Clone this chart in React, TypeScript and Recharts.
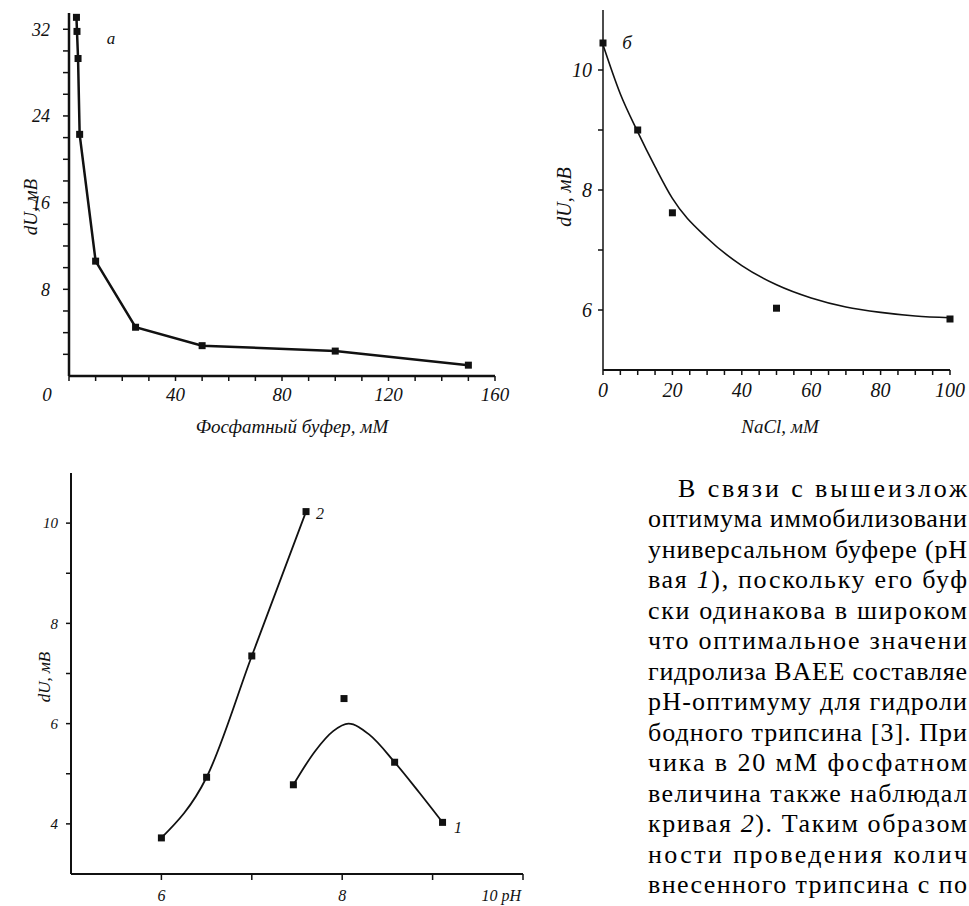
import React from 'react';
import { ComposedChart, Line, Scatter, XAxis, YAxis } from 'recharts';

// (а) dU vs phosphate buffer concentration
const bufferConc = [2.8, 3.0, 3.4, 4, 10, 25, 50, 100, 150];
const bufferDU = [33.1, 31.8, 29.3, 22.3, 10.6, 4.5, 2.8, 2.3, 1.0];
const bufferTicksX = [0, 10, 20, 30, 40, 50, 60, 70, 80, 90, 100, 110, 120, 130, 140, 150, 160];
const bufferLabelsX = [0, 40, 80, 120, 160];
const bufferTicksY = [2, 4, 6, 8, 10, 12, 14, 16, 18, 20, 22, 24, 26, 28, 30, 32];
const bufferLabelsY = [8, 16, 24, 32];

// (б) dU vs NaCl, points and the drawn fit curve
const naclConc = [0, 10, 20, 50, 100];
const naclDU = [10.45, 9.0, 7.62, 6.03, 5.85];
const naclFitConc = [0, 5, 10, 15, 20, 30, 40, 50, 60, 70, 80, 90, 100];
const naclFitDU = [10.42, 9.6, 8.97, 8.39, 7.86, 7.2, 6.74, 6.42, 6.2, 6.05, 5.96, 5.9, 5.87];
const naclTicksX = [0, 5, 10, 15, 20, 25, 30, 35, 40, 45, 50, 55, 60, 65, 70, 75, 80, 85, 90, 95, 100];
const naclLabelsX = [0, 20, 40, 60, 80, 100];
const naclTicksY = [6, 7, 8, 9, 10];
const naclLabelsY = [6, 8, 10];

// pH curves 1 and 2
const ph2 = [6.0, 6.5, 7.0, 7.6];
const du2 = [3.72, 4.93, 7.35, 10.23];
const ph1 = [7.46, 8.02, 8.58, 9.11];
const du1 = [4.78, 6.5, 5.23, 4.03];
const ph1Fit = [7.46, 7.7, 7.9, 8.07, 8.3, 8.58, 8.85, 9.11];
const du1Fit = [4.78, 5.45, 5.85, 6.0, 5.78, 5.23, 4.63, 4.03];
const phTicksX = [6, 7, 8, 9, 10];
const phLabelsX = [6, 8, 10];
const phTicksY = [4, 5, 6, 7, 8, 9, 10];
const phLabelsY = [4, 6, 8, 10];

// paragraph beside the pH chart (cut at the page edge as in the scan)
const textLines = [
  'В связи с вышеизлож',
  'оптимума иммобилизовани',
  'универсальном буфере (pH',
  'вая |1|), поскольку его буф',
  'ски одинакова в широком',
  'что оптимальное значени',
  'гидролиза BAEE составляе',
  'pH-оптимуму для гидроли',
  'бодного трипсина [3]. При',
  'чика в 20 мМ фосфатном',
  'величина также наблюдал',
  'кривая |2|). Таким образом',
  'ности проведения колич',
  'внесенного трипсина с по',
];

const zip = (xs: number[], ys: number[]) => xs.map((x, i) => ({ x, y: ys[i] }));

const serif = '"Liberation Serif", "DejaVu Serif", serif';
const ink = '#111';

const square = (size: number) => (props: any) => {
  const { cx, cy, index } = props;
  if (cx == null || cy == null) return <g key={index} />;
  return <rect key={index} x={cx - size / 2} y={cy - size / 2} width={size} height={size} fill={ink} />;
};

type TickOpts = {
  labels: number[];
  fontSize: number;
  vertical?: boolean;
  dx?: (v: number) => number;
  text?: (v: number) => string;
  anchor?: (v: number) => string;
};

const makeTick = (o: TickOpts) => (props: any) => {
  const { x, y, payload } = props;
  const v = payload.value;
  if (!o.labels.includes(v)) return <g />;
  return (
    <text
      x={x + (o.dx ? o.dx(v) : 0)}
      y={y}
      dy={o.vertical ? '0.35em' : '0.71em'}
      textAnchor={o.anchor ? o.anchor(v) : o.vertical ? 'end' : 'middle'}
      fontFamily={serif}
      fontStyle="italic"
      fontSize={o.fontSize}
      fill={ink}
    >
      {o.text ? o.text(v) : v}
    </text>
  );
};

function BufferChart() {
  return (
    <ComposedChart width={520} height={440} margin={{ top: 13, right: 25, bottom: 0, left: 0 }}>
      <XAxis type="number" dataKey="x" domain={[0, 160]} ticks={bufferTicksX} interval={0} height={64}
        axisLine={{ stroke: ink, strokeWidth: 2.5 }} tickLine={{ stroke: ink, strokeWidth: 1.5 }} tickSize={5} tickMargin={7}
        tick={makeTick({ labels: bufferLabelsX, fontSize: 19, dx: (v) => (v === 0 ? -22 : 0) })} />
      <YAxis type="number" dataKey="y" domain={[0, 33.5]} ticks={bufferTicksY} interval={0} width={69}
        axisLine={{ stroke: ink, strokeWidth: 2.5 }} tickLine={{ stroke: ink, strokeWidth: 1.5 }} tickSize={6} tickMargin={13}
        tick={makeTick({ labels: bufferLabelsY, fontSize: 18, vertical: true })} />
      <Line data={zip(bufferConc, bufferDU)} dataKey="y" type="linear" stroke={ink} strokeWidth={2.5}
        dot={square(7)} activeDot={false} isAnimationActive={false} />
    </ComposedChart>
  );
}

function NaclChart() {
  return (
    <ComposedChart width={446} height={440} margin={{ top: 10, right: 19, bottom: 0, left: 0 }}>
      <XAxis type="number" dataKey="x" domain={[0, 100]} ticks={naclTicksX} interval={0} height={70}
        axisLine={{ stroke: ink, strokeWidth: 2 }} tickLine={{ stroke: ink, strokeWidth: 1.5 }} tickSize={5} tickMargin={8}
        tick={makeTick({ labels: naclLabelsX, fontSize: 20 })} />
      <YAxis type="number" dataKey="y" domain={[5, 11]} ticks={naclTicksY} interval={0} width={80}
        axisLine={{ stroke: ink, strokeWidth: 1.5 }} tickLine={{ stroke: ink, strokeWidth: 1.5 }} tickSize={5} tickMargin={6}
        tick={makeTick({ labels: naclLabelsY, fontSize: 20, vertical: true })} />
      <Line data={zip(naclFitConc, naclFitDU)} dataKey="y" type="monotone" stroke={ink} strokeWidth={1.6}
        dot={false} activeDot={false} isAnimationActive={false} />
      <Scatter data={zip(naclConc, naclDU)} dataKey="y" shape={square(7)} isAnimationActive={false} />
    </ComposedChart>
  );
}

function PhChart() {
  return (
    <ComposedChart width={560} height={466} margin={{ top: 33, right: 37, bottom: 0, left: 0 }}>
      <XAxis type="number" dataKey="x" domain={[5, 10]} ticks={phTicksX} interval={0} height={32}
        axisLine={{ stroke: ink, strokeWidth: 2 }} tickLine={{ stroke: ink, strokeWidth: 1.5 }} tickSize={6} tickMargin={10}
        tick={makeTick({
          labels: phLabelsX,
          fontSize: 16,
          text: (v) => (v === 10 ? '10 pH' : String(v)),
          anchor: (v) => (v === 10 ? 'end' : 'middle'),
          dx: (v) => (v === 10 ? -2 : 0),
        })} />
      <YAxis type="number" dataKey="y" domain={[3, 11]} ticks={phTicksY} interval={0} width={71}
        axisLine={{ stroke: ink, strokeWidth: 2 }} tickLine={{ stroke: ink, strokeWidth: 1.5 }} tickSize={5} tickMargin={8}
        tick={makeTick({ labels: phLabelsY, fontSize: 15, vertical: true })} />
      <Line data={zip(ph2, du2)} dataKey="y" type="monotone" stroke={ink} strokeWidth={1.8}
        dot={square(7)} activeDot={false} isAnimationActive={false} />
      <Line data={zip(ph1Fit, du1Fit)} dataKey="y" type="monotone" stroke={ink} strokeWidth={1.8}
        dot={false} activeDot={false} isAnimationActive={false} />
      <Scatter data={zip(ph1, du1)} dataKey="y" shape={square(7)} isAnimationActive={false} />
    </ComposedChart>
  );
}

const renderLine = (s: string) =>
  s.split('|').map((part, i) => (i % 2 === 1 ? <tspan key={i} fontStyle="italic">{part}</tspan> : <tspan key={i}>{part}</tspan>));

export default function App() {
  const label = { fontFamily: serif, fontStyle: 'italic' as const, fill: ink };
  return (
    <div style={{ position: 'absolute', left: 0, top: 0, width: 969, height: 906, overflow: 'hidden', background: '#fff' }}>
      <div style={{ position: 'absolute', left: 0, top: 0 }}><BufferChart /></div>
      <div style={{ position: 'absolute', left: 523, top: 0 }}><NaclChart /></div>
      <div style={{ position: 'absolute', left: 0, top: 440 }}><PhChart /></div>
      <svg width={969} height={906} style={{ position: 'absolute', left: 0, top: 0, pointerEvents: 'none' }}>
        <text x={111} y={38} dominantBaseline="central" textAnchor="middle" fontSize={17} {...label}>а</text>
        <text x={30} y={207} dominantBaseline="central" textAnchor="middle" fontSize={19} transform="rotate(-90 30 207)" {...label}>dU, мВ</text>
        <text x={292} y={426} dominantBaseline="central" textAnchor="middle" fontSize={19} {...label}>Фосфатный буфер, мМ</text>

        <text x={627} y={42} dominantBaseline="central" textAnchor="middle" fontSize={19} {...label}>б</text>
        <text x={564} y={197} dominantBaseline="central" textAnchor="middle" fontSize={20} transform="rotate(-90 564 197)" {...label}>dU, мВ</text>
        <text x={780} y={426} dominantBaseline="central" textAnchor="middle" fontSize={19} {...label}>NaCl, мМ</text>

        <text x={44} y={677} dominantBaseline="central" textAnchor="middle" fontSize={17} transform="rotate(-90 44 677)" {...label}>dU, мВ</text>
        <text x={320} y={513} dominantBaseline="central" textAnchor="middle" fontSize={16} {...label}>2</text>
        <text x={458} y={827} dominantBaseline="central" textAnchor="middle" fontSize={16} {...label}>1</text>

        {textLines.map((s, k) => {
          const x = k === 0 ? 678 : 648;
          return (
            <text key={k} x={x} y={893 - 30.5 * (13 - k)} fontFamily={serif} fontSize={26} fill="#000"
              textLength={969 - x - 2} lengthAdjust="spacing">
              {renderLine(s)}
            </text>
          );
        })}
      </svg>
    </div>
  );
}
